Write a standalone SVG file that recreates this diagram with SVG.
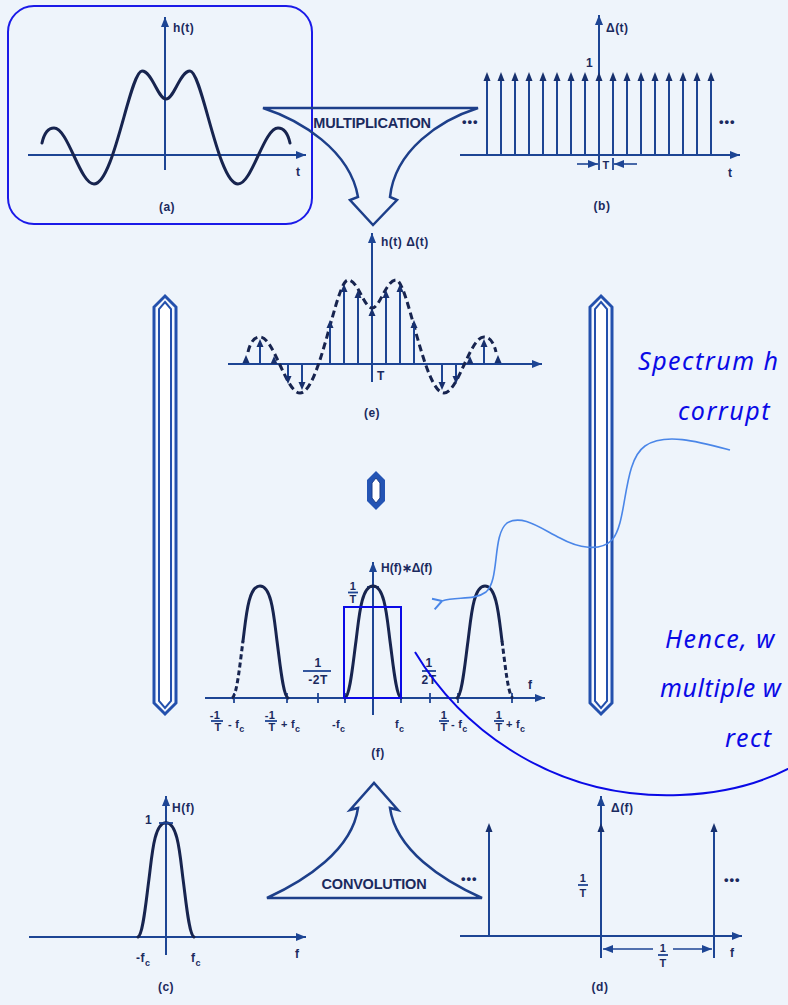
<svg xmlns="http://www.w3.org/2000/svg" xmlns:xlink="http://www.w3.org/1999/xlink" width="788" height="1005" viewBox="0 0 788 1005">
<style>
.ax{stroke:#1d4594;stroke-width:2;fill:none}
.cv{stroke:#17244f;stroke-width:3;fill:none;stroke-linecap:round}
.dcv{stroke:#17244f;stroke-width:3;fill:none;stroke-dasharray:7 4}
.imp{stroke:#1d4594;stroke-width:2}
.ah{fill:#17306e}
.tk{stroke:#1d4594;stroke-width:1.8}
.lb{font-family:"Liberation Sans",Arial,sans-serif;font-weight:bold;font-size:12px;letter-spacing:0.5px;fill:#1b2a5e}
.sm{font-size:11px;letter-spacing:0.3px}
.dots{font-family:"Liberation Sans",Arial,sans-serif;font-weight:bold;font-size:13px;letter-spacing:1px;fill:#1b2a5e}
.mid{text-anchor:middle}
.hand{font-family:"Noto Sans",sans-serif;font-style:italic;font-size:25px;fill:#0a0ae6;letter-spacing:1.5px}
.bar{fill:#f4f8fe;stroke:#2350ad;stroke-width:3}
.bari{fill:#ffffff;stroke:#2350ad;stroke-width:2}
.shape{fill:none;stroke:#1d3f8a;stroke-width:2.5;stroke-linejoin:miter}
.big{font-size:14.5px;letter-spacing:-0.2px}
</style>
<defs>
<marker id="arr" viewBox="0 0 10 8" refX="10" refY="4" markerWidth="10" markerHeight="8" orient="auto" markerUnits="userSpaceOnUse"><path d="M0,0 L10,4 L0,8 Z" fill="#1d4594"/></marker>
<marker id="open" viewBox="0 0 12 12" refX="1" refY="6" markerWidth="13" markerHeight="13" orient="auto" markerUnits="userSpaceOnUse"><path d="M1,6 L10,1 M1,6 L9,11" fill="none" stroke="#4a86e8" stroke-width="1.8"/></marker>
<path id="ht" d="M 42,143 C 44,134 48,128 54,128 C 68,128 80,184 94,184 C 114,184 130,71 142,71 C 152,71 158,99 166,99 C 174,99 180,71 190,71 C 202,71 218,184 238,184 C 252,184 264,128 278,128 C 284,128 288,134 290,143"/>
<path id="pulse" d="M -28,0 C -23,-2 -20,-35 -17,-57 C -14,-80 -12,-112 0,-112 C 12,-112 14,-80 17,-57 C 20,-35 23,-2 28,0"/>
</defs>
<rect width="788" height="1005" fill="#eef4fb"/>

<g id="bars">
<polygon class="bar" points="165,296 176,307 176,703 165,714 154,703 154,307"/>
<polygon class="bari" points="165,302 171,309 171,701 165,708 159,701 159,309"/>
<polygon class="bar" points="601,296 612,307 612,703 601,714 590,703 590,307"/>
<polygon class="bari" points="601,302 607,309 607,701 601,708 595,701 595,309"/>
<polygon fill="#2454b4" points="376,471 385,480 385,501 376,510 367,501 367,480"/>
<polygon fill="#ffffff" stroke="#1d3f8a" stroke-width="1" points="376,478 380,483 380,498 376,503 372,498 372,483"/>
</g>

<g id="panel-a">
<line class="ax" x1="165" y1="170" x2="165" y2="17" marker-end="url(#arr)"/>
<line class="ax" x1="28" y1="155" x2="306" y2="155" marker-end="url(#arr)"/>
<use href="#ht" class="cv"/>
<text class="lb" x="173" y="32">h(t)</text>
<text class="lb" x="296" y="176">t</text>
<text class="lb mid" x="167" y="211">(a)</text>
<rect x="8" y="6" width="304" height="218" rx="26" fill="none" stroke="#1a1ae8" stroke-width="2"/>
</g>

<g id="multiplication">
<path class="shape" d="M 263,108 L 478,108 C 440,120 395,150 390,197 L 397,200 L 373,225 L 350,200 L 358,197 C 350,150 300,120 263,108 Z"/>
<text class="lb mid big" x="372" y="128">MULTIPLICATION</text>
</g>

<g id="panel-b">
<line class="ax" x1="599" y1="160" x2="599" y2="15" marker-end="url(#arr)"/>
<line class="ax" x1="460" y1="155" x2="740" y2="155" marker-end="url(#arr)"/>
<g class="imp">
<line x1="487" y1="155" x2="487" y2="80"/><line x1="501" y1="155" x2="501" y2="80"/><line x1="515" y1="155" x2="515" y2="80"/><line x1="529" y1="155" x2="529" y2="80"/><line x1="543" y1="155" x2="543" y2="80"/><line x1="557" y1="155" x2="557" y2="80"/><line x1="571" y1="155" x2="571" y2="80"/><line x1="585" y1="155" x2="585" y2="80"/><line x1="613" y1="155" x2="613" y2="80"/><line x1="627" y1="155" x2="627" y2="80"/><line x1="641" y1="155" x2="641" y2="80"/><line x1="655" y1="155" x2="655" y2="80"/><line x1="669" y1="155" x2="669" y2="80"/><line x1="683" y1="155" x2="683" y2="80"/><line x1="697" y1="155" x2="697" y2="80"/><line x1="711" y1="155" x2="711" y2="80"/>
</g>
<g class="ah">
<polygon points="487,72 483.5,81 490.5,81"/><polygon points="501,72 497.5,81 504.5,81"/><polygon points="515,72 511.5,81 518.5,81"/><polygon points="529,72 525.5,81 532.5,81"/><polygon points="543,72 539.5,81 546.5,81"/><polygon points="557,72 553.5,81 560.5,81"/><polygon points="571,72 567.5,81 574.5,81"/><polygon points="585,72 581.5,81 588.5,81"/><polygon points="599,72 595.5,81 602.5,81"/><polygon points="613,72 609.5,81 616.5,81"/><polygon points="627,72 623.5,81 630.5,81"/><polygon points="641,72 637.5,81 644.5,81"/><polygon points="655,72 651.5,81 658.5,81"/><polygon points="669,72 665.5,81 672.5,81"/><polygon points="683,72 679.5,81 686.5,81"/><polygon points="697,72 693.5,81 700.5,81"/><polygon points="711,72 707.5,81 714.5,81"/>
</g>
<line class="tk" x1="599" y1="158" x2="599" y2="170"/><line class="tk" x1="613" y1="158" x2="613" y2="170"/>
<line class="ax" x1="577" y1="164" x2="598" y2="164" marker-end="url(#arr)" style="stroke-width:1.6"/>
<line class="ax" x1="637" y1="164" x2="614" y2="164" marker-end="url(#arr)" style="stroke-width:1.6"/>
<text class="lb" x="606" y="32">Δ(t)</text>
<text class="lb" x="586" y="67">1</text>
<text class="lb mid sm" x="606" y="169">T</text>
<text class="dots" x="462" y="126">•••</text>
<text class="dots" x="719" y="126">•••</text>
<text class="lb" x="728" y="177">t</text>
<text class="lb mid" x="602" y="210">(b)</text>
</g>

<g id="panel-e">
<line class="ax" x1="372" y1="382" x2="372" y2="233" marker-end="url(#arr)"/>
<line class="ax" x1="228" y1="364" x2="542" y2="364" marker-end="url(#arr)"/>
<use href="#ht" class="dcv" transform="translate(206,209)"/>
<g class="imp">
<line x1="246" y1="364" x2="246" y2="360"/><line x1="260" y1="364" x2="260" y2="346"/><line x1="274" y1="364" x2="274" y2="362"/><line x1="288" y1="364" x2="288" y2="377"/><line x1="302" y1="364" x2="302" y2="383"/><line x1="330" y1="364" x2="330" y2="327"/><line x1="344" y1="364" x2="344" y2="291"/><line x1="358" y1="364" x2="358" y2="297"/><line x1="386" y1="364" x2="386" y2="297"/><line x1="400" y1="364" x2="400" y2="291"/><line x1="414" y1="364" x2="414" y2="327"/><line x1="442" y1="364" x2="442" y2="383"/><line x1="456" y1="364" x2="456" y2="377"/><line x1="470" y1="364" x2="470" y2="362"/><line x1="484" y1="364" x2="484" y2="346"/><line x1="498" y1="364" x2="498" y2="360"/>
</g>
<g class="ah">
<polygon points="246,355 242.5,363 249.5,363"/><polygon points="260,339 256.5,347 263.5,347"/><polygon points="274,356 270.5,364 277.5,364"/><polygon points="288,384 284.5,376 291.5,376"/><polygon points="302,390 298.5,382 305.5,382"/><polygon points="330,320 326.5,328 333.5,328"/><polygon points="344,284 340.5,292 347.5,292"/><polygon points="358,290 354.5,298 361.5,298"/><polygon points="372,308 368.5,316 375.5,316"/><polygon points="386,290 382.5,298 389.5,298"/><polygon points="400,284 396.5,292 403.5,292"/><polygon points="414,320 410.5,328 417.5,328"/><polygon points="442,390 438.5,382 445.5,382"/><polygon points="456,384 452.5,376 459.5,376"/><polygon points="470,356 466.5,364 473.5,364"/><polygon points="484,339 480.5,347 487.5,347"/><polygon points="498,355 494.5,363 501.5,363"/>
</g>
<text class="lb" x="381" y="246">h(t) Δ(t)</text>
<text class="lb" x="377" y="380">T</text>
<text class="lb mid" x="372" y="417">(e)</text>
</g>

<g id="panel-f">
<line class="ax" x1="373" y1="715" x2="373" y2="562" marker-end="url(#arr)"/>
<line class="ax" x1="205" y1="698" x2="545" y2="698" marker-end="url(#arr)"/>
<g class="tk">
<line x1="234" y1="693" x2="234" y2="703"/><line x1="287" y1="693" x2="287" y2="703"/><line x1="318" y1="693" x2="318" y2="703"/><line x1="345" y1="693" x2="345" y2="703"/><line x1="401" y1="693" x2="401" y2="703"/><line x1="430" y1="693" x2="430" y2="703"/><line x1="458" y1="693" x2="458" y2="703"/><line x1="512" y1="693" x2="512" y2="703"/>
<line x1="367" y1="587" x2="379" y2="587"/>
</g>
<path class="dcv" d="M 232,698 C 237,696 240,663 243,641" style="stroke-dasharray:5 3"/>
<path class="cv" d="M 243,641 C 246,618 248,586 260,586 C 272,586 274,618 277,641 C 280,663 283,696 288,698"/>
<use href="#pulse" class="cv" transform="translate(373,698)"/>
<path class="cv" d="M 457,698 C 462,696 465,663 468,641 C 471,618 473,586 485,586 C 497,586 499,618 502,641"/>
<path class="dcv" d="M 502,641 C 505,663 508,696 513,698" style="stroke-dasharray:5 3"/>
<text class="lb" x="381" y="572" style="letter-spacing:0">H(f)∗Δ(f)</text>
<text class="lb mid sm" x="353" y="590">1</text><line class="tk" x1="348" y1="592.5" x2="358" y2="592.5"/><text class="lb mid sm" x="353" y="603">T</text>
<text class="lb mid" x="318" y="667">1</text><line class="tk" x1="303" y1="671" x2="331" y2="671"/><text class="lb mid" x="318" y="684">-2T</text>
<text class="lb mid" x="429" y="667">1</text><line class="tk" x1="422" y1="671" x2="436" y2="671"/><text class="lb mid" x="429" y="684">2T</text>
<text class="lb" x="528" y="689">f</text>
<text class="lb mid sm" x="215" y="719">-1</text><line class="tk" x1="211" y1="721" x2="223" y2="721"/><text class="lb mid sm" x="218" y="731">T</text>
<text class="lb sm" x="228" y="728">- f<tspan font-size="9" dy="4">c</tspan></text>
<text class="lb mid sm" x="270" y="719">-1</text><line class="tk" x1="265" y1="721" x2="277" y2="721"/><text class="lb mid sm" x="272" y="731">T</text>
<text class="lb sm" x="281" y="728">+ f<tspan font-size="9" dy="4">c</tspan></text>
<text class="lb sm" x="332" y="728">-f<tspan font-size="9" dy="4">c</tspan></text>
<text class="lb sm" x="395" y="728">f<tspan font-size="9" dy="4">c</tspan></text>
<text class="lb mid sm" x="444" y="719">1</text><line class="tk" x1="439" y1="721" x2="449" y2="721"/><text class="lb mid sm" x="444" y="731">T</text>
<text class="lb sm" x="451" y="728">- f<tspan font-size="9" dy="4">c</tspan></text>
<text class="lb mid sm" x="499" y="719">1</text><line class="tk" x1="494" y1="721" x2="504" y2="721"/><text class="lb mid sm" x="499" y="731">T</text>
<text class="lb sm" x="506" y="728">+ f<tspan font-size="9" dy="4">c</tspan></text>
<text class="lb mid" x="378" y="757">(f)</text>
<rect x="344" y="607" width="57" height="91" fill="none" stroke="#0a0ae6" stroke-width="2"/>
</g>

<g id="panel-c">
<line class="ax" x1="166" y1="955" x2="166" y2="796" marker-end="url(#arr)"/>
<line class="ax" x1="29" y1="937" x2="306" y2="937" marker-end="url(#arr)"/>
<use href="#pulse" class="cv" transform="translate(166,937) scale(1,1.02)"/>
<line class="tk" x1="159" y1="823" x2="173" y2="823"/>
<text class="lb" x="172" y="812">H(f)</text>
<text class="lb" x="145" y="824">1</text>
<text class="lb" x="136" y="962">-f<tspan font-size="9" dy="4">c</tspan></text>
<text class="lb" x="191" y="962">f<tspan font-size="9" dy="4">c</tspan></text>
<text class="lb" x="295" y="958">f</text>
<text class="lb mid" x="166" y="991">(c)</text>
</g>

<g id="convolution">
<path class="shape" d="M 267,898 L 482,898 C 442,880 396,850 390,808 L 398,810 L 374,783 L 350,810 L 358,808 C 352,850 306,880 267,898 Z"/>
<text class="lb mid big" x="374" y="889">CONVOLUTION</text>
</g>

<g id="panel-d">
<line class="ax" x1="601" y1="958" x2="601" y2="796" marker-end="url(#arr)"/>
<line class="ax" x1="460" y1="936" x2="742" y2="936" marker-end="url(#arr)"/>
<line class="imp" x1="489" y1="936" x2="489" y2="831"/>
<line class="imp" x1="714" y1="958" x2="714" y2="831"/>
<g class="ah">
<polygon points="489,823 485.5,832 492.5,832"/><polygon points="601,823 597.5,832 604.5,832"/><polygon points="714,823 710.5,832 717.5,832"/>
</g>
<line class="ax" x1="653" y1="949" x2="603" y2="949" marker-end="url(#arr)" style="stroke-width:1.6"/>
<line class="ax" x1="673" y1="949" x2="712" y2="949" marker-end="url(#arr)" style="stroke-width:1.6"/>
<text class="lb mid sm" x="663" y="952">1</text><line class="tk" x1="658" y1="955" x2="668" y2="955"/><text class="lb mid sm" x="663" y="967">T</text>
<text class="lb" x="611" y="812">Δ(f)</text>
<text class="lb mid sm" x="583" y="882">1</text><line class="tk" x1="578" y1="885" x2="588" y2="885"/><text class="lb mid sm" x="583" y="897">T</text>
<text class="dots" x="461" y="883">•••</text>
<text class="dots" x="724" y="884">•••</text>
<text class="lb" x="730" y="957">f</text>
<text class="lb mid" x="600" y="991">(d)</text>
</g>

<g id="connectors">
<path d="M 730,450 C 700,442 665,432 645,446 C 622,462 628,522 612,540 C 600,552 578,548 560,538 C 540,528 522,514 507,523 C 492,535 500,580 486,592 C 474,601 456,596 442,601" fill="none" stroke="#4a86e8" stroke-width="1.6" marker-end="url(#open)"/>
<path d="M 415,652 C 465,735 560,800 680,795 C 730,793 765,782 795,765" fill="none" stroke="#0a0ae6" stroke-width="2"/>
</g>

<g id="notes">
<text class="hand" x="638" y="370">Spectrum h</text>
<text class="hand" x="678" y="420">corrupt</text>
<text class="hand" x="665" y="648">Hence, w</text>
<text class="hand" x="660" y="697" style="letter-spacing:0.6px">multiple w</text>
<text class="hand" x="725" y="747">rect</text>
</g>
</svg>
